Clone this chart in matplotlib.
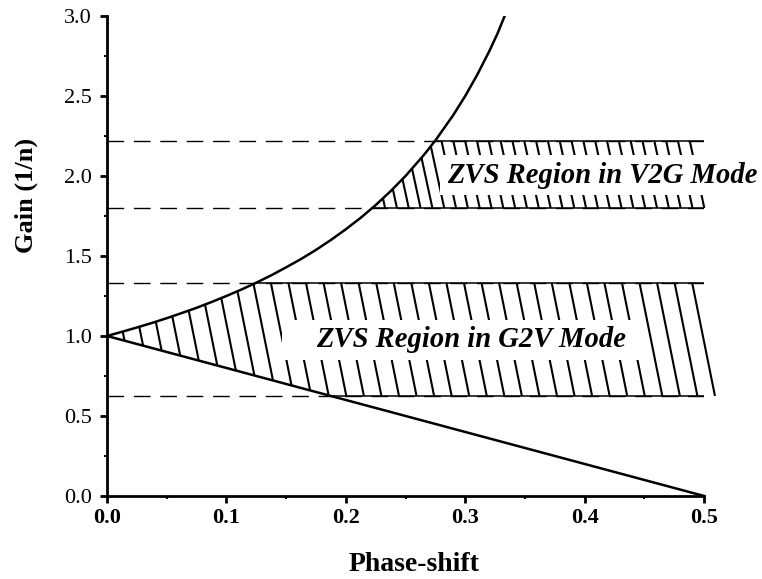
import matplotlib
matplotlib.use('Agg')
import matplotlib.pyplot as plt
import numpy as np
from matplotlib.patches import Rectangle
from matplotlib.ticker import MultipleLocator

plt.rcParams['font.family'] = ['Liberation Serif', 'DejaVu Serif']

# boundary curves: upper (gain rising with phase-shift) and lower straight line
phase_up = [0.0, 0.0125, 0.025, 0.0375, 0.05, 0.0625, 0.075, 0.0875, 0.1,
            0.1125, 0.125, 0.1375, 0.15, 0.1625, 0.175, 0.1875, 0.2, 0.2125,
            0.225, 0.2375, 0.25, 0.265, 0.275, 0.29, 0.3, 0.31, 0.32, 0.327,
            0.333]
gain_up = [1.0, 1.026, 1.053, 1.081, 1.111, 1.143, 1.176, 1.212, 1.25,
           1.290, 1.333, 1.379, 1.429, 1.481, 1.538, 1.6, 1.667, 1.739,
           1.818, 1.905, 2.0, 2.128, 2.222, 2.381, 2.5, 2.632, 2.778, 2.890,
           3.0]
phase_lo = [0.0, 0.5]
gain_lo = [1.0, 0.0]

# gain bands of the two operating modes
v2g_band = (1.8, 2.22)
g2v_band = (0.625, 1.333)
x_end = 0.5

xticks = [0.0, 0.1, 0.2, 0.3, 0.4, 0.5]
yticks = [0.0, 0.5, 1.0, 1.5, 2.0, 2.5, 3.0]

fig = plt.figure(figsize=(7.62, 5.79), dpi=100)
ax = fig.add_axes([0.1404, 0.1434, 0.7836, 0.829])
ax.set_xlim(0, 0.5)
ax.set_ylim(0, 3.0)


def region_limits(x):
    up = np.interp(x, phase_up, gain_up, right=np.inf)
    lo = np.interp(x, phase_lo, gain_lo)
    return up, lo


def hatch(band, spacing, last, slant):
    lo_y, hi_y = band
    ys = np.linspace(lo_y, hi_y, 800)
    c = last
    while c + slant * (hi_y - lo_y) > 0:
        xs = c + slant * (hi_y - ys)
        up, lo = region_limits(xs)
        inside = (ys <= up) & (ys >= lo)
        if inside.sum() > 1:
            ax.plot(xs[inside], ys[inside], color='black', lw=1.5,
                    solid_capstyle='butt', clip_on=False, zorder=2)
        c -= spacing


hatch(v2g_band, 0.0099, 0.488, 0.029)
hatch(g2v_band, 0.0147, 0.490, 0.027)

# dashed guide levels, solid where they bound a region
for level, (cx, cy) in [(v2g_band[1], (gain_up, phase_up)),
                        (v2g_band[0], (gain_up, phase_up)),
                        (g2v_band[1], (gain_up, phase_up)),
                        (g2v_band[0], (gain_lo[::-1], phase_lo[::-1]))]:
    ax.plot([0, x_end], [level, level], color='black', lw=1.0,
            dashes=(12, 7), zorder=1)
    start = np.interp(level, cx, cy)
    ax.plot([start, x_end], [level, level], color='black', lw=1.1, zorder=3)

ax.plot(phase_up, gain_up, color='black', lw=1.8, zorder=4)
ax.plot(phase_lo, gain_lo, color='black', lw=1.8, zorder=4, clip_on=False)

# white boxes behind the region labels
ax.add_patch(Rectangle((0.1466, 0.85), 0.304, 0.25, facecolor='white',
                       edgecolor='none', zorder=5))
ax.add_patch(Rectangle((0.279, 1.88), 0.27, 0.25, facecolor='white',
                       edgecolor='none', zorder=5, clip_on=False))
ax.text(0.305, 0.975, 'ZVS Region in G2V Mode', fontsize=20.6,
        fontweight='bold', fontstyle='italic', ha='center', va='center',
        zorder=6)
ax.text(0.415, 2.0, 'ZVS Region in V2G Mode', fontsize=20.6,
        fontweight='bold', fontstyle='italic', ha='center', va='center',
        zorder=6, clip_on=False)

for side in ['top', 'right']:
    ax.spines[side].set_visible(False)
for side in ['left', 'bottom']:
    ax.spines[side].set_linewidth(2.0)

ax.set_xticks(xticks)
ax.set_yticks(yticks)
ax.xaxis.set_minor_locator(MultipleLocator(0.05))
ax.yaxis.set_minor_locator(MultipleLocator(0.25))
ax.set_xticklabels([f'{v:.1f}' for v in xticks], fontweight='bold',
                   fontsize=16)
ax.set_yticklabels([f'{v:.1f}' for v in yticks], fontsize=16)
ax.tick_params(which='major', direction='out', length=5, width=2)
ax.tick_params(which='minor', direction='out', length=2.5, width=1.5)
ax.tick_params(axis='y', pad=6)
ax.tick_params(axis='x', pad=4)

ax.set_xlabel('Phase-shift', fontsize=20, fontweight='bold')
ax.set_ylabel('Gain (1/n)', fontsize=19, fontweight='bold')
ax.xaxis.set_label_coords(0.514, -0.117)
ax.yaxis.set_label_coords(-0.116, 0.627)

fig.savefig('out.png', dpi=100)
